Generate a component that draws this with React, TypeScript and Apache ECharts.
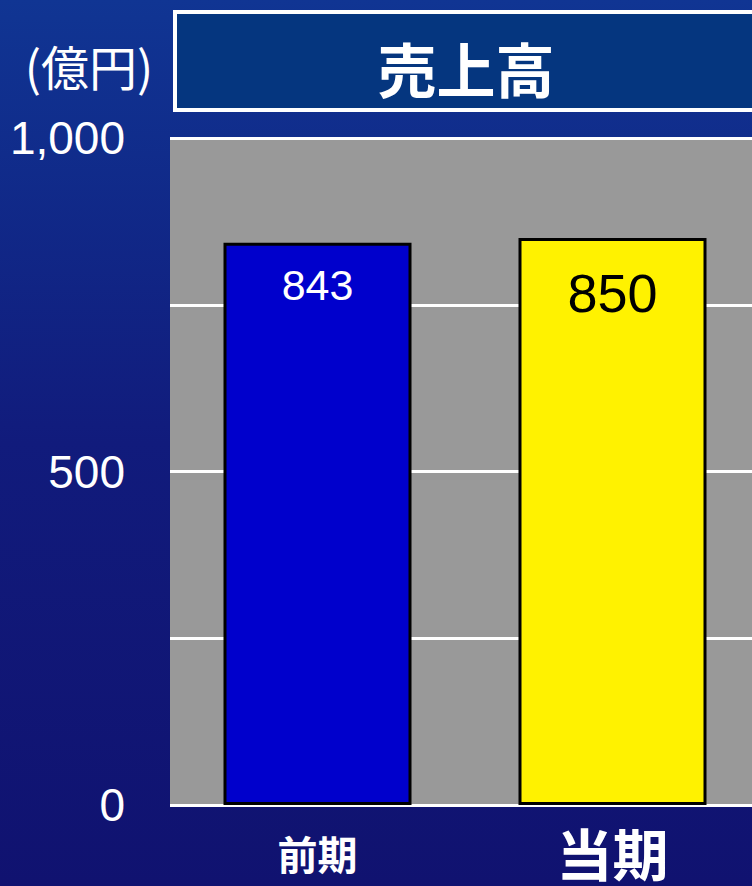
import React, { useEffect, useRef } from "react";
import * as echarts from "echarts";

const categories = ["前期", "当期"];
const values = [843, 850];
const yTickLabels = ["0", "500", "1,000"];
const titleText = "売上高";
const unitText = "(億円)";

export default function App() {
  const ref = useRef<HTMLDivElement>(null);
  useEffect(() => {
    document.body.style.margin = "0";
    const chart = echarts.init(ref.current!, null, { renderer: "svg" });
    const num = "'Liberation Sans', Arial, sans-serif";
    const cjk = "'Noto Sans CJK JP', sans-serif";
    chart.setOption({
      animation: false,
      backgroundColor: {
        type: "linear",
        x: 0,
        y: 0,
        x2: 0,
        y2: 1,
        colorStops: [
          { offset: 0, color: "#103593" },
          { offset: 0.5, color: "#111b7c" },
          { offset: 1, color: "#101270" },
        ],
      },
      grid: {
        left: 170,
        top: 138,
        width: 590,
        height: 667,
        show: true,
        backgroundColor: "#999999",
        borderWidth: 0,
        containLabel: false,
      },
      xAxis: {
        type: "category",
        data: categories,
        axisLine: { show: false },
        axisTick: { show: false },
        axisLabel: {
          margin: 19,
          formatter: (v: string, i: number) => (i === 0 ? `{a|${v}}` : `{b|${v}}`),
          rich: {
            a: {
              fontSize: 40,
              lineHeight: 40,
              fontWeight: "bold",
              color: "#ffffff",
              fontFamily: cjk,
              padding: [18, 0, 0, 0],
            },
            b: {
              fontSize: 56,
              lineHeight: 54,
              fontWeight: "bold",
              color: "#ffffff",
              fontFamily: cjk,
            },
          },
        },
      },
      yAxis: {
        type: "value",
        min: 0,
        max: 1000,
        interval: 250,
        axisLine: { show: false },
        axisTick: { show: false },
        splitLine: { show: true, lineStyle: { color: "#ffffff", width: 3 } },
        axisLabel: {
          margin: 45,
          color: "#ffffff",
          fontSize: 46,
          fontFamily: num,
          formatter: (v: number) => {
            const s = v.toLocaleString("en-US");
            return yTickLabels.includes(s) ? s : "";
          },
        },
      },
      series: [
        {
          type: "bar",
          barWidth: 188,
          data: [
            {
              value: values[0],
              itemStyle: { color: "#0000cc", borderColor: "#000000", borderWidth: 3 },
              label: {
                show: true,
                position: "insideTop",
                distance: 21,
                color: "#ffffff",
                fontSize: 43,
                fontFamily: num,
              },
            },
            {
              value: values[1],
              itemStyle: { color: "#fff200", borderColor: "#000000", borderWidth: 3 },
              label: {
                show: true,
                position: "insideTop",
                distance: 28,
                color: "#000000",
                fontSize: 54,
                fontFamily: num,
              },
            },
          ],
        },
      ],
      graphic: [
        {
          type: "rect",
          shape: { x: 175, y: 12, width: 620, height: 98 },
          style: { fill: "#05367f", stroke: "#ffffff", lineWidth: 4 },
          z: 10,
        },
        {
          type: "text",
          x: 466,
          y: 67,
          style: {
            text: titleText,
            fill: "#ffffff",
            fontSize: 59,
            fontWeight: "bold",
            fontFamily: cjk,
            align: "center",
            verticalAlign: "middle",
          },
          z: 11,
        },
        {
          type: "text",
          x: 89,
          y: 65,
          style: {
            text: unitText,
            fill: "#ffffff",
            fontSize: 48,
            fontFamily: cjk,
            align: "center",
            verticalAlign: "middle",
          },
          z: 11,
        },
      ],
    });
    return () => chart.dispose();
  }, []);
  return (
    <div style={{ width: 752, height: 886, overflow: "hidden" }}>
      <div ref={ref} style={{ width: 770, height: 886 }} />
    </div>
  );
}
